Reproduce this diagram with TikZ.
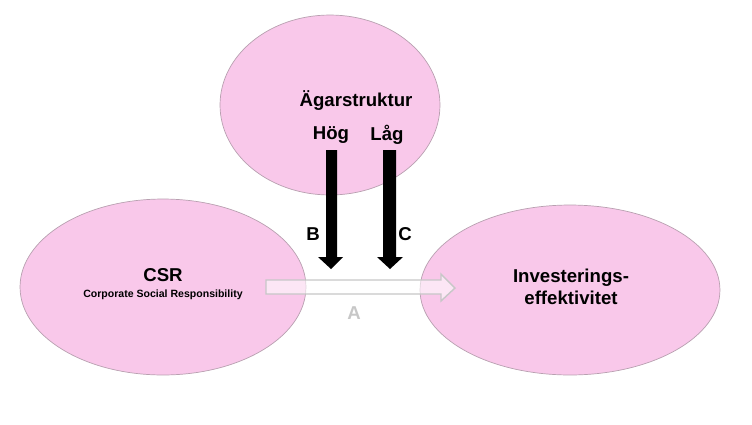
\documentclass[tikz,border=0pt]{standalone}
\usepackage{fontspec}
\setmainfont{Liberation Sans}
\definecolor{rosa}{HTML}{F9C8EA}
\definecolor{kant}{HTML}{B8A0B0}
\tikzset{
  blob/.style={ellipse, draw=kant, fill=rosa, inner sep=0pt},
  rubrik/.style={font=\fontsize{10.6}{12.5}\selectfont\bfseries, align=center},
  pil/.style={fill=black},
}
\usetikzlibrary{shapes.geometric}
\begin{document}
\begin{tikzpicture}[x=0.02cm, y=-0.02cm]
    \useasboundingbox (0,0) rectangle (752,424);

    \node[blob, minimum width=4.4cm, minimum height=3.6cm] (agare) at (330,105) {};
    \node[blob, minimum width=5.72cm, minimum height=3.52cm] (csr) at (163,287) {};
    \node[blob, minimum width=6.0cm, minimum height=3.4cm] (inv) at (570,290) {};

    \node[rubrik] (titel) at (356,101) {Ägarstruktur};
    \node[rubrik] (hog) at (331,135) {Hög};
    \node[rubrik] (lag) at (387,135) {Låg};
    \node[rubrik] (csrtext) at (163,275) {CSR};
    \node[font=\fontsize{6}{7}\selectfont\bfseries] (csrsub) at (163,295) {Corporate Social Responsibility};
    \node[rubrik] (invtext) at (571,287) {Investerings-\\effektivitet};

    % svarta pilar
    \fill[pil] (326,150) -- (337,150) -- (337,257) -- (343,257) -- (331,269) -- (318,257) -- (326,257) -- cycle;
    \fill[pil] (383,150) -- (396,150) -- (396,257) -- (403,257) -- (390,269) -- (377,257) -- (383,257) -- cycle;
    \node[rubrik] (b) at (313,234) {B};
    \node[rubrik] (c) at (405,234) {C};

    % ihalig pil
    \draw[black!22, fill=white, fill opacity=0.55, line width=0.8pt] (266,280) -- (441,280) -- (441,274) -- (455,288) -- (441,301) -- (441,294) -- (266,294) -- cycle;
    \node[rubrik, text=black!22] (a) at (354,313) {A};
\end{tikzpicture}
\end{document}
